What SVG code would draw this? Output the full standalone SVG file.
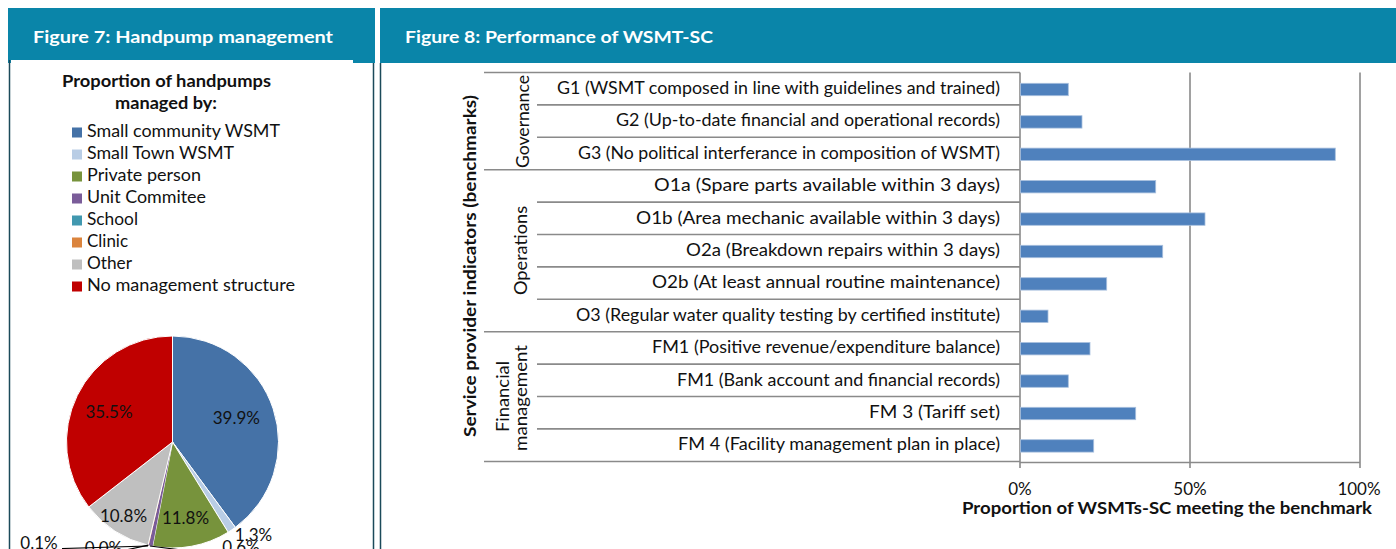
<svg xmlns="http://www.w3.org/2000/svg" width="1396" height="549" viewBox="0 0 1396 549">
<style>
text{font-family:Lato,"Liberation Sans",sans-serif;fill:#111;}
.title{font-size:17px;font-weight:bold;fill:#fff;}
.b{font-weight:bold;}
.s17{font-size:17px;}
.lab{font-size:16.5px;text-anchor:end;}
.mid{text-anchor:middle;}
.hdr{fill:#0a85a9;}
.border{stroke:#1b4a5a;stroke-width:1.5;fill:none;}
.grid{stroke:#8a8a8a;stroke-width:1.6;fill:none;}
.bar{fill:#4f81bd;stroke:#a9c0de;stroke-width:0.8;}
.slice{stroke:#fff;stroke-width:1;}
.lead{stroke:#000;stroke-width:1.2;fill:none;}
</style>
<rect width="1396" height="549" fill="#fff"/>

<!-- Figure 7 panel -->
<g id="fig7-header">
  <rect class="hdr" x="8" y="8" width="367" height="55"/>
  <rect x="11" y="60" width="342" height="4" fill="#fff"/>
  <text class="title" x="33" y="43" textLength="300" lengthAdjust="spacingAndGlyphs">Figure 7: Handpump management</text>
</g>
<g id="fig7-border">
  <line class="border" x1="9.5" y1="60" x2="9.5" y2="549"/>
  <line class="border" x1="373.5" y1="63" x2="373.5" y2="549"/>
</g>
<g id="pie-title">
  <text class="b s17 mid" x="166.5" y="87" textLength="209" lengthAdjust="spacingAndGlyphs">Proportion of handpumps</text>
  <text class="b s17 mid" x="166" y="109" textLength="102" lengthAdjust="spacingAndGlyphs">managed by:</text>
</g>
<g id="legend">
  <g id="leg-small-community"><rect x="72" y="127.5" width="10" height="10" fill="#4572a7"/><text class="s17" x="87" y="137" textLength="193" lengthAdjust="spacingAndGlyphs">Small community WSMT</text></g>
  <g id="leg-small-town"><rect x="72" y="149.5" width="10" height="10" fill="#b9cde5"/><text class="s17" x="87" y="159" textLength="147" lengthAdjust="spacingAndGlyphs">Small Town WSMT</text></g>
  <g id="leg-private"><rect x="72" y="171.5" width="10" height="10" fill="#77933c"/><text class="s17" x="87" y="181" textLength="114" lengthAdjust="spacingAndGlyphs">Private person</text></g>
  <g id="leg-unit"><rect x="72" y="193.5" width="10" height="10" fill="#7a5c99"/><text class="s17" x="87" y="203" textLength="119" lengthAdjust="spacingAndGlyphs">Unit Commitee</text></g>
  <g id="leg-school"><rect x="72" y="215.5" width="10" height="10" fill="#4198af"/><text class="s17" x="87" y="225" textLength="51" lengthAdjust="spacingAndGlyphs">School</text></g>
  <g id="leg-clinic"><rect x="72" y="237.5" width="10" height="10" fill="#db843d"/><text class="s17" x="87" y="247" textLength="41" lengthAdjust="spacingAndGlyphs">Clinic</text></g>
  <g id="leg-other"><rect x="72" y="259.5" width="10" height="10" fill="#bfbfbf"/><text class="s17" x="87" y="269" textLength="45" lengthAdjust="spacingAndGlyphs">Other</text></g>
  <g id="leg-none"><rect x="72" y="281.5" width="10" height="10" fill="#c00000"/><text class="s17" x="87" y="291" textLength="208" lengthAdjust="spacingAndGlyphs">No management structure</text></g>
</g>
<g id="pie">
  <path class="slice" fill="#4572a7" d="M172.5,442 L172.5,336 A106,106 0 0 1 235.35,527.36 Z"/>
  <path class="slice" fill="#b9cde5" d="M172.5,442 L235.35,527.36 A106,106 0 0 1 228.15,532.22 Z"/>
  <path class="slice" fill="#77933c" d="M172.5,442 L228.15,532.22 A106,106 0 0 1 152.64,546.12 Z"/>
  <path fill="#7a5c99" d="M172.5,442 L152.64,546.12 A106,106 0 0 1 148.73,545.30 Z"/>
  <path fill="#db843d" d="M172.5,442 L148.73,545.30 A106,106 0 0 1 148.08,545.15 Z"/>
  <path class="slice" fill="#bfbfbf" d="M172.5,442 L148.08,545.15 A106,106 0 0 1 88.74,506.97 Z"/>
  <path class="slice" fill="#c00000" d="M172.5,442 L88.74,506.97 A106,106 0 0 1 172.5,336 Z"/>
</g>
<g id="pie-labels">
  <text class="s17 mid" x="236.3" y="424">39.9%</text>
  <text class="s17 mid" x="109" y="418">35.5%</text>
  <text class="s17 mid" x="123.5" y="522">10.8%</text>
  <text class="s17 mid" x="185.5" y="524">11.8%</text>
  <text class="s17 mid" x="253.5" y="540.5">1.3%</text>
  <text class="s17 mid" x="241" y="553">0.6%</text>
  <text class="s17 mid" x="39" y="549">0.1%</text>
  <text class="s17 mid" x="103.5" y="554">0.0%</text>
</g>

<!-- Figure 8 panel -->
<g id="fig8-header">
  <rect class="hdr" x="380" y="8" width="1016" height="55"/>
  <text class="title" x="405" y="43" textLength="308" lengthAdjust="spacingAndGlyphs">Figure 8: Performance of WSMT-SC</text>
</g>
<g id="fig8-border">
  <line class="border" x1="380.5" y1="63" x2="380.5" y2="549"/>
</g>
<g id="grid">
  <line class="grid" x1="1190" y1="72.5" x2="1190" y2="468"/>
  <line class="grid" x1="1360" y1="72.5" x2="1360" y2="468"/>
  <line class="grid" x1="1020" y1="72.5" x2="1020" y2="468"/>
  <line class="grid" x1="1020" y1="462.5" x2="1360" y2="462.5"/>
</g>
<g id="table-lines">
  <line class="grid" x1="484" y1="72.5" x2="1020" y2="72.5"/>
  <line class="grid" x1="537" y1="104.9" x2="1020" y2="104.9"/>
  <line class="grid" x1="537" y1="137.3" x2="1020" y2="137.3"/>
  <line class="grid" x1="484" y1="169.7" x2="1020" y2="169.7"/>
  <line class="grid" x1="537" y1="202.1" x2="1020" y2="202.1"/>
  <line class="grid" x1="537" y1="234.5" x2="1020" y2="234.5"/>
  <line class="grid" x1="537" y1="266.9" x2="1020" y2="266.9"/>
  <line class="grid" x1="537" y1="299.3" x2="1020" y2="299.3"/>
  <line class="grid" x1="484" y1="331.7" x2="1020" y2="331.7"/>
  <line class="grid" x1="537" y1="364.1" x2="1020" y2="364.1"/>
  <line class="grid" x1="537" y1="396.5" x2="1020" y2="396.5"/>
  <line class="grid" x1="537" y1="428.9" x2="1020" y2="428.9"/>
  <line class="grid" x1="484" y1="461.5" x2="1020" y2="461.5"/>
</g>
<g id="axis-titles">
  <text class="b s17 mid" transform="translate(476,266) rotate(-90)" textLength="342" lengthAdjust="spacingAndGlyphs">Service provider indicators (benchmarks)</text>
  <text class="s17 mid" transform="translate(529,121.5) rotate(-90)" textLength="93" lengthAdjust="spacingAndGlyphs">Governance</text>
  <text class="s17 mid" transform="translate(527,250.5) rotate(-90)" textLength="89" lengthAdjust="spacingAndGlyphs">Operations</text>
  <text class="s17 mid" transform="translate(509,396.5) rotate(-90)" textLength="71" lengthAdjust="spacingAndGlyphs">Financial</text>
  <text class="s17 mid" transform="translate(527,398) rotate(-90)" textLength="106" lengthAdjust="spacingAndGlyphs">management</text>
  <text class="s17 mid" x="1020" y="495">0%</text>
  <text class="s17 mid" x="1190" y="495">50%</text>
  <text class="s17 mid" x="1359" y="495">100%</text>
  <text class="b s17 mid" x="1167" y="514" textLength="410" lengthAdjust="spacingAndGlyphs">Proportion of WSMTs-SC meeting the benchmark</text>
</g>
<g id="row-labels">
  <text class="lab" x="1000" y="94" textLength="443" lengthAdjust="spacingAndGlyphs">G1 (WSMT composed in line with guidelines and trained)</text>
  <text class="lab" x="1000" y="126.4" textLength="384" lengthAdjust="spacingAndGlyphs">G2 (Up-to-date financial and operational records)</text>
  <text class="lab" x="1000" y="158.8" textLength="422" lengthAdjust="spacingAndGlyphs">G3 (No political interferance in composition of WSMT)</text>
  <text class="lab" x="1000" y="191.2" textLength="346" lengthAdjust="spacingAndGlyphs">O1a (Spare parts available within 3 days)</text>
  <text class="lab" x="1000" y="223.6" textLength="364" lengthAdjust="spacingAndGlyphs">O1b (Area mechanic available within 3 days)</text>
  <text class="lab" x="1000" y="256" textLength="314" lengthAdjust="spacingAndGlyphs">O2a (Breakdown repairs within 3 days)</text>
  <text class="lab" x="1000" y="288.4" textLength="348" lengthAdjust="spacingAndGlyphs">O2b (At least annual routine maintenance)</text>
  <text class="lab" x="1000" y="320.8" textLength="424" lengthAdjust="spacingAndGlyphs">O3 (Regular water quality testing by certified institute)</text>
  <text class="lab" x="1000" y="353.2" textLength="348" lengthAdjust="spacingAndGlyphs">FM1 (Positive revenue/expenditure balance)</text>
  <text class="lab" x="1000" y="385.6" textLength="323" lengthAdjust="spacingAndGlyphs">FM1 (Bank account and financial records)</text>
  <text class="lab" x="1000" y="418" textLength="131" lengthAdjust="spacingAndGlyphs">FM 3 (Tariff set)</text>
  <text class="lab" x="1000" y="450.4" textLength="322" lengthAdjust="spacingAndGlyphs">FM 4 (Facility management plan in place)</text>
</g>
<g id="bars">
  <rect class="bar" x="1020.5" y="83.3" width="47.8" height="12.4"/>
  <rect class="bar" x="1020.5" y="115.7" width="61.5" height="12.4"/>
  <rect class="bar" x="1020.5" y="148.1" width="314.8" height="12.4"/>
  <rect class="bar" x="1020.5" y="180.5" width="135.2" height="12.4"/>
  <rect class="bar" x="1020.5" y="212.9" width="184.5" height="12.4"/>
  <rect class="bar" x="1020.5" y="245.3" width="142.2" height="12.4"/>
  <rect class="bar" x="1020.5" y="277.7" width="86.2" height="12.4"/>
  <rect class="bar" x="1020.5" y="310.1" width="27.5" height="12.4"/>
  <rect class="bar" x="1020.5" y="342.5" width="69.5" height="12.4"/>
  <rect class="bar" x="1020.5" y="374.9" width="47.8" height="12.4"/>
  <rect class="bar" x="1020.5" y="407.3" width="115.2" height="12.4"/>
  <rect class="bar" x="1020.5" y="439.7" width="73.2" height="12.4"/>
</g>
<g id="connectors">
  <path class="lead" d="M62,548.5 L148,546"/>
  <path class="lead" d="M128,549.5 L148.4,545.2"/>
  <path class="lead" d="M150,546 L178,549.5"/>
</g>
</svg>
